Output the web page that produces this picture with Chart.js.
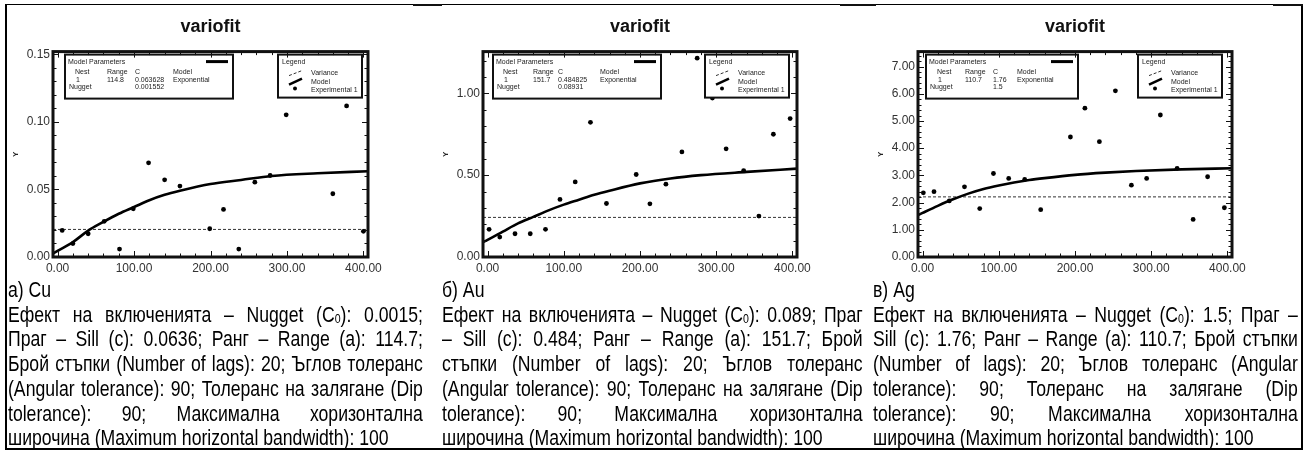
<!DOCTYPE html>
<html><head><meta charset="utf-8">
<script src="https://cdn.jsdelivr.net/npm/chart.js@4.4.1/dist/chart.umd.min.js"></script>
<style>
html,body{margin:0;padding:0;background:#fff;}
body{width:1305px;height:452px;position:relative;overflow:hidden;font-family:"Liberation Sans",Arial,sans-serif;}
canvas{position:absolute;top:8px;}
.frame{position:absolute;left:5px;top:4px;width:1294px;height:443px;border-top:1px solid #000;border-left:2px solid #000;border-right:2px solid #000;border-bottom:2px solid #000;}
.seg{position:absolute;top:4px;height:2px;background:#111;}
.cap{position:absolute;top:278px;}
.cap .in{transform:scaleX(0.82);transform-origin:0 0;font-size:21.5px;line-height:24.7px;color:#000;}
.cap .ln{text-align:justify;text-align-last:justify;}
.cap .ln.l{text-align-last:left;text-align:left;}
.cap sub{font-size:0.6em;vertical-align:-0.1em;line-height:0;}
</style>
</head><body>
<div class="frame"></div>
<div class="seg" style="left:413px;width:29px"></div>
<div class="seg" style="left:840px;width:36px"></div>
<div class="seg" style="left:1273px;width:30px"></div>

<canvas id="c1" width="410" height="271" style="left:5px;width:410px;height:271px"></canvas>
<canvas id="c2" width="410" height="271" style="left:435px;width:410px;height:271px"></canvas>
<canvas id="c3" width="410" height="271" style="left:870px;width:410px;height:271px"></canvas>

<div class="cap" style="left:8px;width:415px"><div class="in" style="width:506px">
<div class="ln l">а) Cu</div>
<div class="ln">Ефект на включенията – Nugget (C<sub>0</sub>): 0.0015;</div>
<div class="ln">Праг – Sill (c): 0.0636; Ранг – Range (a): 114.7;</div>
<div class="ln">Брой стъпки (Number of lags): 20; Ъглов толеранс</div>
<div class="ln">(Angular tolerance): 90; Толеранс на залягане (Dip</div>
<div class="ln">tolerance): 90; Максимална хоризонтална</div>
<div class="ln l">широчина (Maximum horizontal bandwidth): 100</div>
</div></div>

<div class="cap" style="left:442px;width:421px"><div class="in" style="width:513px">
<div class="ln l">б) Au</div>
<div class="ln">Ефект на включенията – Nugget (C<sub>0</sub>): 0.089; Праг</div>
<div class="ln">– Sill (c): 0.484; Ранг – Range (a): 151.7; Брой</div>
<div class="ln">стъпки (Number of lags): 20; Ъглов толеранс</div>
<div class="ln">(Angular tolerance): 90; Толеранс на залягане (Dip</div>
<div class="ln">tolerance): 90; Максимална хоризонтална</div>
<div class="ln l">широчина (Maximum horizontal bandwidth): 100</div>
</div></div>

<div class="cap" style="left:873px;width:425px"><div class="in" style="width:518px">
<div class="ln l">в) Ag</div>
<div class="ln">Ефект на включенията – Nugget (C<sub>0</sub>): 1.5; Праг –</div>
<div class="ln">Sill (c): 1.76; Ранг – Range (a): 110.7; Брой стъпки</div>
<div class="ln">(Number of lags): 20; Ъглов толеранс (Angular</div>
<div class="ln">tolerance): 90; Толеранс на залягане (Dip</div>
<div class="ln">tolerance): 90; Максимална хоризонтална</div>
<div class="ln l">широчина (Maximum horizontal bandwidth): 100</div>
</div></div>

<script>
// ---- data ----
const X_MIN = -6, X_MAX = 406;
const xTicks = [0, 100, 200, 300, 400];

const lagsCu  = [6, 20, 40, 61, 81, 99, 119, 140, 160, 199, 217, 237, 258, 278, 299, 360, 378, 400];
const gammaCu = [0.0197, 0.0099, 0.0172, 0.0264, 0.0059, 0.0357, 0.0697, 0.0571, 0.0525, 0.0209, 0.0352, 0.0059, 0.0554, 0.0603, 0.1052, 0.0468, 0.1118, 0.0190];
const lagsAu  = [2, 16, 36, 56, 76, 95, 115, 135, 156, 195, 213, 234, 255, 275, 295, 313, 336, 356, 375, 397];
const gammaAu = [0.169, 0.122, 0.142, 0.142, 0.169, 0.352, 0.459, 0.823, 0.327, 0.504, 0.325, 0.445, 0.642, 1.215, 0.971, 0.661, 0.528, 0.250, 0.750, 0.846];
const lagsAg  = [1, 15, 35, 55, 75, 93, 113, 134, 155, 194, 213, 232, 253, 274, 294, 312, 334, 355, 374, 396];
const gammaAg = [2.36, 2.40, 2.06, 2.58, 1.78, 3.07, 2.89, 2.85, 1.74, 4.41, 5.47, 4.24, 6.11, 2.64, 2.89, 5.22, 3.26, 1.38, 2.95, 1.81];

const modelX  = [-6, 0, 20, 40, 60, 80, 100, 120, 140, 160, 200, 240, 280, 340, 406];
const modelCu = [0.0025, 0.0045, 0.011, 0.0195, 0.026, 0.032, 0.037, 0.042, 0.046, 0.049, 0.054, 0.057, 0.060, 0.062, 0.0635];
const modelAu = [0.091, 0.105, 0.155, 0.205, 0.245, 0.285, 0.32, 0.35, 0.38, 0.405, 0.45, 0.48, 0.50, 0.52, 0.54];
const modelAg = [1.54, 1.62, 1.88, 2.12, 2.33, 2.50, 2.63, 2.74, 2.83, 2.90, 3.02, 3.10, 3.16, 3.22, 3.26];

const varianceCu = 0.0204, varianceAu = 0.242, varianceAg = 2.21;

const yTicksCu = [0, 0.05, 0.10, 0.15];
const yTicksAu = [0, 0.5, 1.0];
const yTicksAg = [0, 1, 2, 3, 4, 5, 6, 7];

// Model parameter table: Nest, Range, C, Model, Nugget
const paramsCu = ['1', '114.8', '0.063628', 'Exponential', '0.001552'];
const paramsAu = ['1', '151.7', '0.484825', 'Exponential', '0.08931'];
const paramsAg = ['1', '110.7', '1.76', 'Exponential', '1.5'];

const FONT = '"Liberation Sans", Arial, sans-serif';

function makeChart(id, o) {
  const vario = {
    id: 'vario_' + id,
    afterDatasetsDraw(chart) {
      const {ctx, chartArea: a, scales: {x, y}} = chart;
      ctx.save();
      // Model parameters box
      const bx = a.left + o.pbLeft, by = a.top + 3, bw = o.pbW, bh = 44;
      ctx.fillStyle = '#fff'; ctx.fillRect(bx, by, bw, bh);
      ctx.strokeStyle = '#111'; ctx.lineWidth = 2; ctx.strokeRect(bx, by, bw, bh);
      ctx.fillStyle = '#222'; ctx.font = '7px ' + FONT; ctx.textBaseline = 'middle'; ctx.textAlign = 'left';
      ctx.fillText('Model Parameters', bx + 3, by + 7);
      const c = o.cols, p = o.params;
      ctx.fillText('Nest', bx + c[0], by + 17);
      ctx.fillText('Range', bx + c[1], by + 17);
      ctx.fillText('C', bx + c[2], by + 17);
      ctx.fillText('Model', bx + c[3], by + 17);
      ctx.fillText(p[0], bx + c[0] + 1, by + 25);
      ctx.fillText(p[1], bx + c[1], by + 25);
      ctx.fillText(p[2], bx + c[2], by + 25);
      ctx.fillText(p[3], bx + c[3], by + 25);
      ctx.fillText('Nugget', bx + 4, by + 32);
      ctx.fillText(p[4], bx + c[2], by + 32);
      ctx.strokeStyle = '#000'; ctx.lineWidth = 3;
      ctx.beginPath(); ctx.moveTo(bx + bw - 27, by + 7); ctx.lineTo(bx + bw - 5, by + 7); ctx.stroke();
      // Legend box
      const lx = a.right - o.lgRight, ly = a.top + 3, lw = 84, lh = 43;
      ctx.fillStyle = '#fff'; ctx.fillRect(lx, ly, lw, lh);
      ctx.strokeStyle = '#111'; ctx.lineWidth = 2; ctx.strokeRect(lx, ly, lw, lh);
      ctx.fillStyle = '#222';
      ctx.fillText('Legend', lx + 4, ly + 7);
      ctx.fillText('Variance', lx + 33, ly + 18);
      ctx.fillText('Model', lx + 33, ly + 27);
      ctx.fillText('Experimental 1', lx + 33, ly + 35);
      ctx.strokeStyle = '#333'; ctx.lineWidth = 1; ctx.setLineDash([3, 2]);
      ctx.beginPath(); ctx.moveTo(lx + 11, ly + 21); ctx.lineTo(lx + 24, ly + 16); ctx.stroke();
      ctx.setLineDash([]);
      ctx.strokeStyle = '#000'; ctx.lineWidth = 2.5;
      ctx.beginPath(); ctx.moveTo(lx + 11, ly + 30); ctx.lineTo(lx + 24, ly + 24); ctx.stroke();
      ctx.fillStyle = '#000';
      ctx.beginPath(); ctx.arc(lx + 17, ly + 34, 2, 0, Math.PI * 2); ctx.fill();
      // inward ticks
      ctx.strokeStyle = '#111'; ctx.lineWidth = 1;
      ctx.beginPath();
      for (let i = Math.ceil(x.min / 20); i * 20 <= x.max; i++) {
        const px = Math.round(x.getPixelForValue(i * 20)) + 0.5, len = (i % 5 === 0) ? 6 : 3.5;
        ctx.moveTo(px, a.top); ctx.lineTo(px, a.top + len);
        ctx.moveTo(px, a.bottom); ctx.lineTo(px, a.bottom - len);
      }
      for (let i = 0; i * o.yMinor <= y.max + 1e-9; i++) {
        const py = Math.round(y.getPixelForValue(i * o.yMinor)) + 0.5, len = (i % 5 === 0) ? 6 : 3.5;
        ctx.moveTo(a.left, py); ctx.lineTo(a.left + len, py);
        ctx.moveTo(a.right, py); ctx.lineTo(a.right - len, py);
      }
      ctx.stroke();
      // frame
      ctx.strokeStyle = '#111'; ctx.lineWidth = 3;
      ctx.strokeRect(a.left, a.top, a.right - a.left, a.bottom - a.top);
      ctx.restore();
    }
  };
  return new Chart(document.getElementById(id), {
    type: 'scatter',
    data: {
      datasets: [
        { label: 'Variance', data: [{x: X_MIN, y: o.variance}, {x: X_MAX, y: o.variance}], showLine: true,
          borderColor: '#333', borderWidth: 1, borderDash: [3, 2], pointRadius: 0, order: 3 },
        { label: 'Model', data: modelX.map((v, i) => ({x: v, y: o.model[i]})), showLine: true,
          borderColor: '#000', borderWidth: 2.6, pointRadius: 0, cubicInterpolationMode: 'monotone', order: 2 },
        { label: 'Experimental 1', data: o.lags.map((v, i) => ({x: v, y: o.gamma[i]})),
          pointRadius: 2.4, backgroundColor: '#000', borderColor: '#000', borderWidth: 0, order: 1 }
      ]
    },
    options: {
      responsive: false, animation: false, devicePixelRatio: 1,
      layout: {padding: {left: 0, right: o.padRight, top: 0, bottom: 0}},
      plugins: {
        legend: {display: false}, tooltip: {enabled: false},
        title: {display: true, text: 'variofit', fullSize: false, color: '#111',
          font: {family: FONT, size: 18, weight: 'bold'}, padding: {top: 8, bottom: 14}}
      },
      scales: {
        x: {
          type: 'linear', min: X_MIN, max: X_MAX,
          afterBuildTicks: s => { s.ticks = xTicks.map(v => ({value: v})); },
          afterFit: s => { s.height = 22; },
          grid: {display: false, drawTicks: false}, border: {display: false},
          ticks: {padding: 4, color: '#333', font: {family: FONT, size: 12}, maxRotation: 0, autoSkip: false,
            callback: v => Number(v).toFixed(2)}
        },
        y: {
          type: 'linear', min: 0, max: o.yMax,
          afterBuildTicks: s => { s.ticks = o.yTicks.map(v => ({value: v})); },
          afterFit: s => { s.width = 48; },
          grid: {display: false, drawTicks: false}, border: {display: false},
          ticks: {padding: 3, color: '#333', font: {family: FONT, size: 12}, autoSkip: false,
            callback: v => Number(v).toFixed(2)},
          title: {display: true, text: 'Y', color: '#222', font: {family: FONT, size: 8, weight: 'bold'}, padding: {top: 6, bottom: 0}}
        }
      }
    },
    plugins: [vario]
  });
}

makeChart('c1', {lags: lagsCu, gamma: gammaCu, model: modelCu, variance: varianceCu, yMax: 0.152, yTicks: yTicksCu, yMinor: 0.01,
  params: paramsCu, pbLeft: 12, pbW: 168, cols: [10, 42, 70, 108], lgRight: 90, padRight: 47});
makeChart('c2', {lags: lagsAu, gamma: gammaAu, model: modelAu, variance: varianceAu, yMax: 1.255, yTicks: yTicksAu, yMinor: 0.1,
  params: paramsAu, pbLeft: 10, pbW: 168, cols: [10, 40, 65, 107], lgRight: 92, padRight: 48});
makeChart('c3', {lags: lagsAg, gamma: gammaAg, model: modelAg, variance: varianceAg, yMax: 7.55, yTicks: yTicksAg, yMinor: 0.2,
  params: paramsAg, pbLeft: 8, pbW: 152, cols: [11, 39, 67, 91], lgRight: 94, padRight: 48});
</script>
</body></html>
